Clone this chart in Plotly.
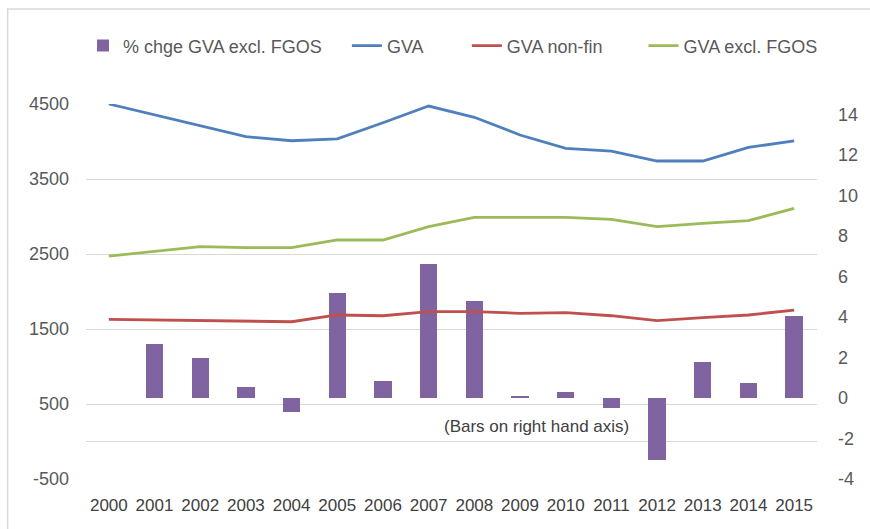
import plotly.graph_objects as go

# Years on the category axis
years = ["2000", "2001", "2002", "2003", "2004", "2005", "2006", "2007",
         "2008", "2009", "2010", "2011", "2012", "2013", "2014", "2015"]

# Annual % change in GVA excluding FGOS (right-hand axis, bars)
pct_chge_gva_excl_fgos = [None, 2.68, 1.97, 0.54, -0.69, 5.21, 0.85, 6.63,
                          4.77, 0.11, 0.28, -0.49, -3.08, 1.78, 0.74, 4.06]

# Levels (left-hand axis, lines)
gva = [4500, 4355, 4210, 4064, 4010, 4035, 4250, 4473,
       4323, 4087, 3909, 3873, 3740, 3740, 3922, 4007]
gva_non_fin = [1629, 1620, 1611, 1605, 1597, 1687, 1677, 1731,
               1731, 1709, 1718, 1677, 1611, 1651, 1687, 1753]
gva_excl_fgos = [2473, 2536, 2598, 2584, 2584, 2687, 2687, 2864,
                 2989, 2989, 2989, 2962, 2864, 2909, 2944, 3109]

# Axis tick values and their printed labels (plain hyphen for negatives)
left_ticks = [-500, 500, 1500, 2500, 3500, 4500]
left_tick_text = ["-500", "500", "1500", "2500", "3500", "4500"]
right_ticks = [-4, -2, 0, 2, 4, 6, 8, 10, 12, 14]
right_tick_text = ["-4", "-2", "0", "2", "4", "6", "8", "10", "12", "14"]

PURPLE = "#8064a2"
BLUE = "#4f7fbd"
RED = "#c0504d"
GREEN = "#9bbb59"
GRID = "#d9d9d9"
FONT = "Liberation Sans"

fig = go.Figure()

# Bars sit on the primary axis (drawn on the right) so the lines overlay them
fig.add_trace(go.Bar(
    x=years, y=pct_chge_gva_excl_fgos, name="% chge GVA excl. FGOS",
    marker=dict(color=PURPLE, line=dict(width=0)), width=0.38,
    yaxis="y", legend="legend",
))

for name, vals, col, leg in [("GVA", gva, BLUE, "legend2"),
                             ("GVA non-fin", gva_non_fin, RED, "legend3"),
                             ("GVA excl. FGOS", gva_excl_fgos, GREEN, "legend4")]:
    fig.add_trace(go.Scatter(
        x=years, y=vals, name=name, mode="lines",
        line=dict(color=col, width=2.8), yaxis="y2", legend=leg,
    ))


def legend_box(xpos):
    return dict(
        orientation="h", x=xpos, xanchor="left",
        y=1.155, yanchor="middle",
        font=dict(size=18, color="#595959", family=FONT),
        bgcolor="rgba(0,0,0,0)", itemwidth=30,
    )


fig.update_layout(
    width=870, height=529,
    margin=dict(l=86, r=47, t=104, b=50),
    paper_bgcolor="white", plot_bgcolor="white",
    font=dict(family=FONT, color="#595959"),
    bargap=0,
    showlegend=True,
    legend=legend_box(-0.0041),
    legend2=legend_box(0.3569),
    legend3=legend_box(0.5210),
    legend4=legend_box(0.7626),
    xaxis=dict(
        type="category", showgrid=False, showline=False, zeroline=False,
        ticks="", tickfont=dict(size=17, color="#404040", family=FONT),
        ticklabelstandoff=14,
    ),
    yaxis=dict(
        side="right", range=[-4, 14.52],
        tickmode="array", tickvals=right_ticks, ticktext=right_tick_text,
        showgrid=False, zeroline=False, showline=False, ticks="",
        tickfont=dict(size=18, color="#595959", family=FONT),
        ticklabelstandoff=20,
    ),
    yaxis2=dict(
        overlaying="y", side="left", range=[-500, 4500],
        tickmode="array", tickvals=left_ticks, ticktext=left_tick_text,
        showgrid=True, gridcolor=GRID, gridwidth=1,
        zeroline=True, zerolinecolor=GRID, zerolinewidth=1,
        showline=False, ticks="",
        tickfont=dict(size=18, color="#595959", family=FONT),
        ticklabelstandoff=16,
    ),
    annotations=[dict(
        text="(Bars on right hand axis)", xref="paper", yref="paper",
        x=0.616, y=0.139, xanchor="center", yanchor="middle",
        showarrow=False, font=dict(size=17, color="#404040", family=FONT),
    )],
    shapes=[dict(
        type="rect", xref="paper", yref="paper",
        x0=-0.1072, x1=1.3, y0=-0.3, y1=1.2533,
        line=dict(color=GRID, width=1.5), fillcolor="rgba(0,0,0,0)",
        layer="below",
    )],
)

fig.write_html("out.html")
